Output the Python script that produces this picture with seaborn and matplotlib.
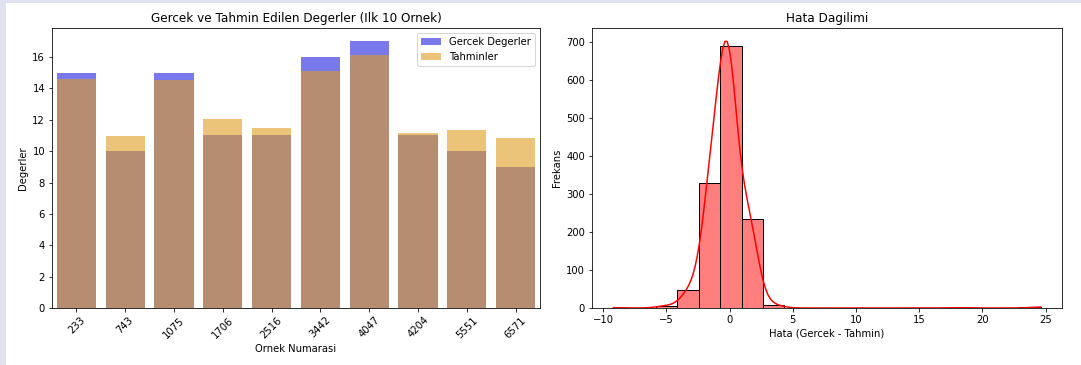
import matplotlib
matplotlib.use("Agg")
import matplotlib.pyplot as plt
from matplotlib.patches import Rectangle
import numpy as np
import pandas as pd
import seaborn as sns

# First ten test samples: index, true value, model prediction
sample_ids = [233, 743, 1075, 1706, 2516, 3442, 4047, 4204, 5551, 6571]
actual_values = [15, 10, 15, 11, 11, 16, 17, 11, 10, 9]
predicted_values = [14.62, 10.95, 14.51, 12.02, 11.46, 15.13, 16.1, 11.17, 11.34, 10.83]

# Prediction errors (true - predicted), grouped by value with their counts
error_values = [-9.2, -5.0, -3.1, -1.45, -0.15, 1.5, 3.4, 18.0, 24.6]
error_counts = [1, 6, 47, 329, 690, 235, 9, 1, 3]

bars_df = pd.DataFrame({
    "sample": sample_ids,
    "actual": actual_values,
    "predicted": predicted_values,
})
errors_df = pd.DataFrame({"error": error_values, "count": error_counts})

W, H, DPI = 1081, 365, 72
fig = plt.figure(figsize=(W / DPI, H / DPI), dpi=DPI)
fig.patch.set_facecolor("#dfe3f0")
fig.add_artist(Rectangle((6 / W, 0), 1 - 6 / W, 1 - 3 / H,
                         transform=fig.transFigure, facecolor="white",
                         edgecolor="none", zorder=-10))

ax1 = fig.add_axes([52 / W, 57 / H, 488 / W, 280 / H])
ax2 = fig.add_axes([592 / W, 57 / H, 470 / W, 280 / H])

# Left: true vs predicted values as overlapping bars
sns.barplot(data=bars_df, x="sample", y="actual", color="blue", alpha=0.6,
            label="Gercek Degerler", ax=ax1)
sns.barplot(data=bars_df, x="sample", y="predicted", color="orange", alpha=0.6,
            label="Tahminler", ax=ax1)
ax1.set_title("Gercek ve Tahmin Edilen Degerler (Ilk 10 Ornek)", fontsize=12)
ax1.set_xlabel("Ornek Numarasi", fontsize=10)
ax1.set_ylabel("Degerler", fontsize=10)
ax1.tick_params(axis="x", rotation=45)
ax1.legend(loc="upper right", fontsize=10)

# Right: error distribution with KDE
sns.histplot(data=errors_df, x="error", weights="count", bins=20, kde=True,
             color="red", kde_kws={"bw_adjust": 0.42}, ax=ax2)
ax2.set_title("Hata Dagilimi", fontsize=12)
ax2.set_xlabel("Hata (Gercek - Tahmin)", fontsize=10)
ax2.set_ylabel("Frekans", fontsize=10)

fig.savefig("out.png", dpi=DPI)
